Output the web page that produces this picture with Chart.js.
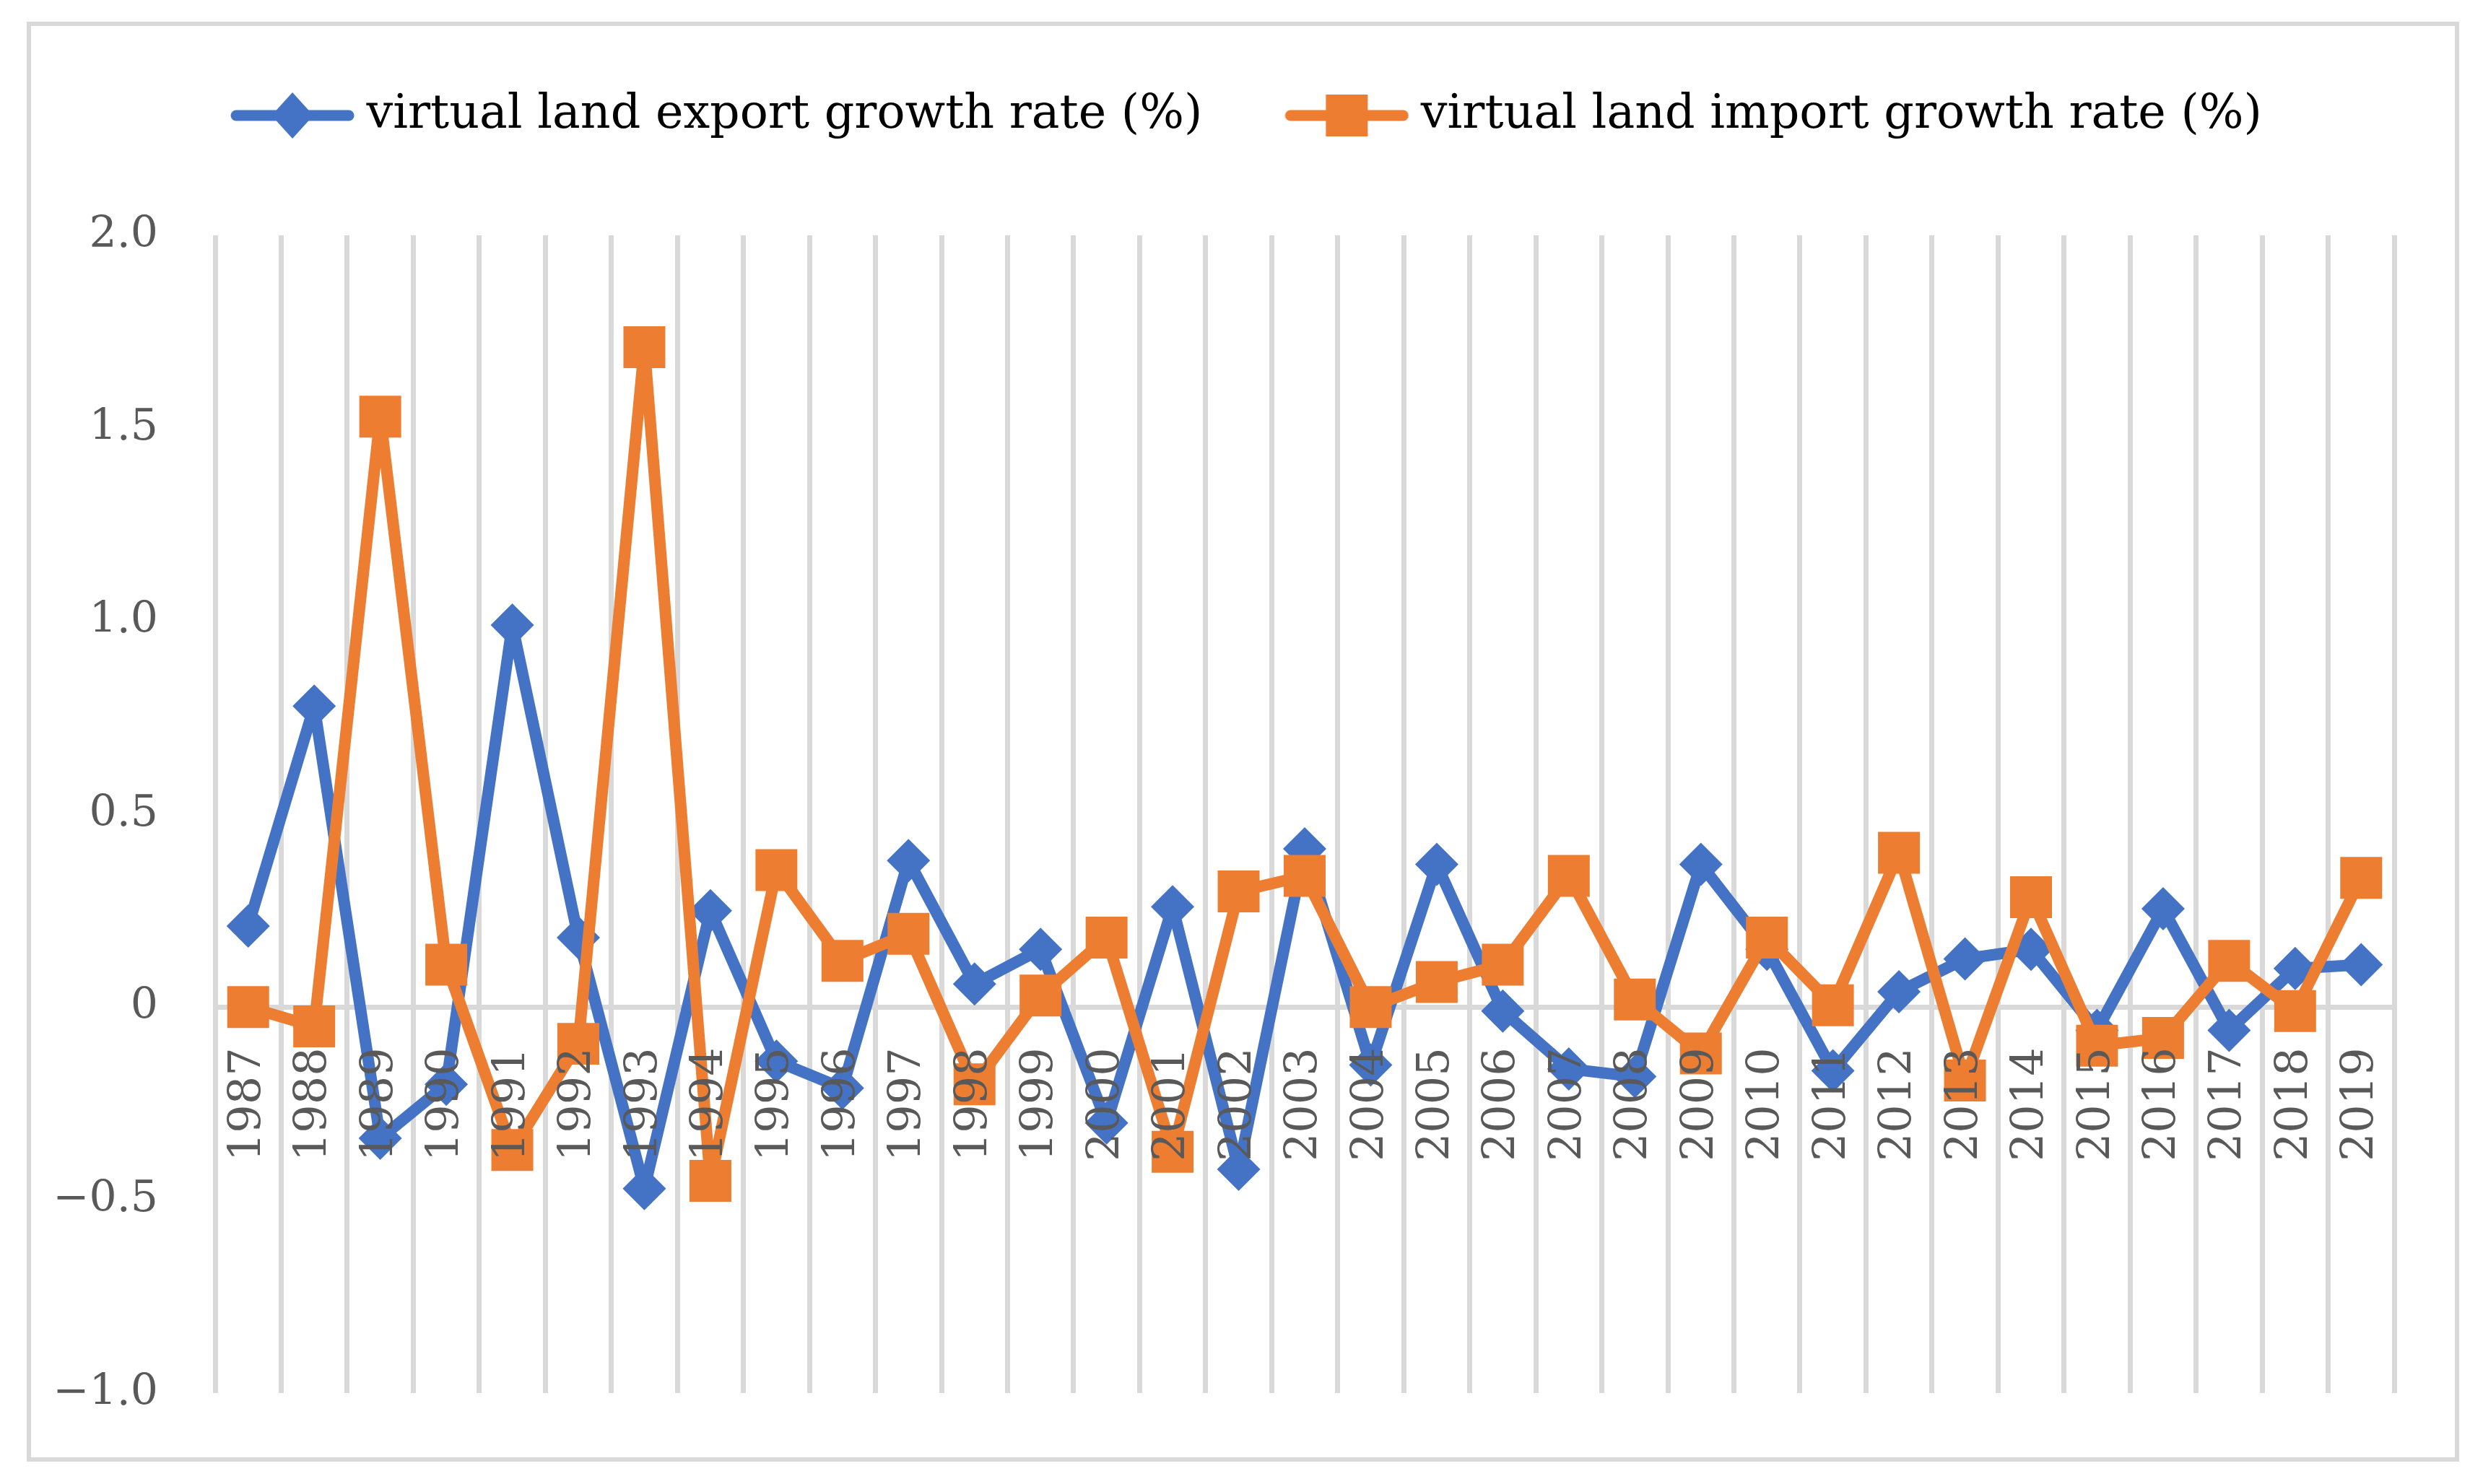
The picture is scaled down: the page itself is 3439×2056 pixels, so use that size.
<!DOCTYPE html>
<html>
<head>
<meta charset="utf-8">
<script src="https://cdn.jsdelivr.net/npm/chart.js@4.4.0/dist/chart.umd.min.js"></script>
<style>
  html, body { margin: 0; padding: 0; background: #fff; overflow: hidden; }
  canvas { display: block; }
</style>
</head>
<body>
<canvas id="growthChart" width="3439" height="2056"></canvas>
<script>
// data
const years = ['1987', '1988', '1989', '1990', '1991', '1992', '1993', '1994', '1995', '1996', '1997',
    '1998', '1999', '2000', '2001', '2002', '2003', '2004', '2005', '2006', '2007', '2008',
    '2009', '2010', '2011', '2012', '2013', '2014', '2015', '2016', '2017', '2018', '2019'];

const exportGrowth = [0.21, 0.78, -0.34, -0.20, 0.99, 0.18, -0.47, 0.25, -0.14, -0.21, 0.38,
    0.06, 0.15, -0.30, 0.26, -0.42, 0.41, -0.15, 0.37, -0.01, -0.16, -0.18,
    0.37, 0.15, -0.165, 0.04, 0.125, 0.15, -0.06, 0.255, -0.06, 0.10, 0.11];

const importGrowth = [0.0, -0.05, 1.53, 0.11, -0.37, -0.095, 1.71, -0.45, 0.355, 0.12, 0.19,
    -0.20, 0.03, 0.18, -0.375, 0.30, 0.34, 0.0, 0.065, 0.11, 0.34, 0.02,
    -0.12, 0.18, 0.005, 0.40, -0.19, 0.285, -0.10, -0.08, 0.12, -0.01, 0.335];

const seriesNames = ['virtual land export growth rate (%)', 'virtual land import growth rate (%)'];

const BLUE = '#4472C4';
const ORANGE = '#ED7D31';
const GREY = '#d9d9d9';
const TEXT = '#595959';
const FONT = "'DejaVu Serif', serif";
const LEGEND_FONT = 65;
const LEGEND_PAD = 130;

// line + marker swatch for the legend
function legendMarker(color, shape) {
    const c = document.createElement('canvas');
    c.width = 172;
    c.height = 66;
    const g = c.getContext('2d');
    g.strokeStyle = color;
    g.lineWidth = 15;
    g.lineCap = 'round';
    g.beginPath();
    g.moveTo(8, 33);
    g.lineTo(164, 33);
    g.stroke();
    g.fillStyle = color;
    g.beginPath();
    if (shape === 'diamond') {
        g.moveTo(86, 1);
        g.lineTo(115, 33);
        g.lineTo(86, 65);
        g.lineTo(57, 33);
        g.closePath();
    } else {
        g.rect(57, 4, 58, 58);
    }
    g.fill();
    return c;
}

const markers = [legendMarker(BLUE, 'diamond'), legendMarker(ORANGE, 'square')];

const framePlugin = {
    id: 'frame',
    beforeDraw(chart) {
        const c = chart.ctx;
        c.save();
        c.fillStyle = '#fff';
        c.fillRect(0, 0, chart.width, chart.height);
        c.strokeStyle = GREY;
        c.lineWidth = 6;
        c.strokeRect(40, 33, 3363, 1989);
        c.restore();
    }
};

// fixed legend block so the plot starts where it does in the figure
const legendPlacePlugin = {
    id: 'legendPlace',
    afterInit(chart) {
        const lg = chart.legend;
        const fit = lg.fit;
        lg.fit = function () {
            fit.call(this);
            this.height = 326;
        };
    },
    afterLayout(chart) {
        const lg = chart.legend;
        lg.left = 152;
        lg.top = 160 - LEGEND_PAD - LEGEND_FONT / 2;
    }
};

const ctx = document.getElementById('growthChart').getContext('2d');

new Chart(ctx, {
    type: 'line',
    data: {
        labels: years,
        datasets: [{
            label: seriesNames[0],
            data: exportGrowth,
            borderColor: BLUE,
            backgroundColor: BLUE,
            borderWidth: 16,
            borderJoinStyle: 'round',
            pointStyle: 'rectRot',
            pointRadius: 30,
            pointBorderWidth: 0,
            pointBackgroundColor: BLUE,
            order: 1
        }, {
            label: seriesNames[1],
            data: importGrowth,
            borderColor: ORANGE,
            backgroundColor: ORANGE,
            borderWidth: 16,
            borderJoinStyle: 'round',
            pointStyle: 'rect',
            pointRadius: 41,
            pointBorderWidth: 0,
            pointBackgroundColor: ORANGE,
            order: 0
        }]
    },
    options: {
        responsive: false,
        animation: false,
        layout: {
            padding: { left: 0, right: 123, top: 0, bottom: 126 }
        },
        plugins: {
            tooltip: { enabled: false },
            legend: {
                position: 'top',
                labels: {
                    color: TEXT,
                    font: { family: FONT, size: LEGEND_FONT },
                    padding: LEGEND_PAD,
                    usePointStyle: true,
                    pointStyleWidth: 140,
                    generateLabels: function () {
                        return seriesNames.map((name, i) => ({
                            text: name,
                            pointStyle: markers[i],
                            fillStyle: i === 0 ? BLUE : ORANGE,
                            strokeStyle: i === 0 ? BLUE : ORANGE,
                            lineWidth: 0,
                            hidden: false,
                            datasetIndex: i
                        }));
                    }
                }
            }
        },
        scales: {
            x: {
                type: 'category',
                offset: true,
                position: { y: 0 },
                grid: { offset: true, color: GREY, lineWidth: 7, drawTicks: false },
                border: { color: GREY, width: 7 },
                ticks: {
                    z: 1,
                    autoSkip: false,
                    minRotation: 90,
                    maxRotation: 90,
                    padding: 56,
                    color: TEXT,
                    font: { family: FONT, size: 62 }
                }
            },
            y: {
                min: -1,
                max: 2,
                grid: { display: false, drawTicks: false },
                border: { display: false },
                ticks: {
                    stepSize: 0.5,
                    padding: 79,
                    color: TEXT,
                    font: { family: FONT, size: 60 },
                    callback: v => v === 0 ? '0' : (v < 0 ? '\u2212' : '') + Math.abs(v).toFixed(1)
                },
                afterFit(scale) {
                    scale.width = 298;
                }
            }
        }
    },
    plugins: [framePlugin, legendPlacePlugin]
});
</script>
</body>
</html>
